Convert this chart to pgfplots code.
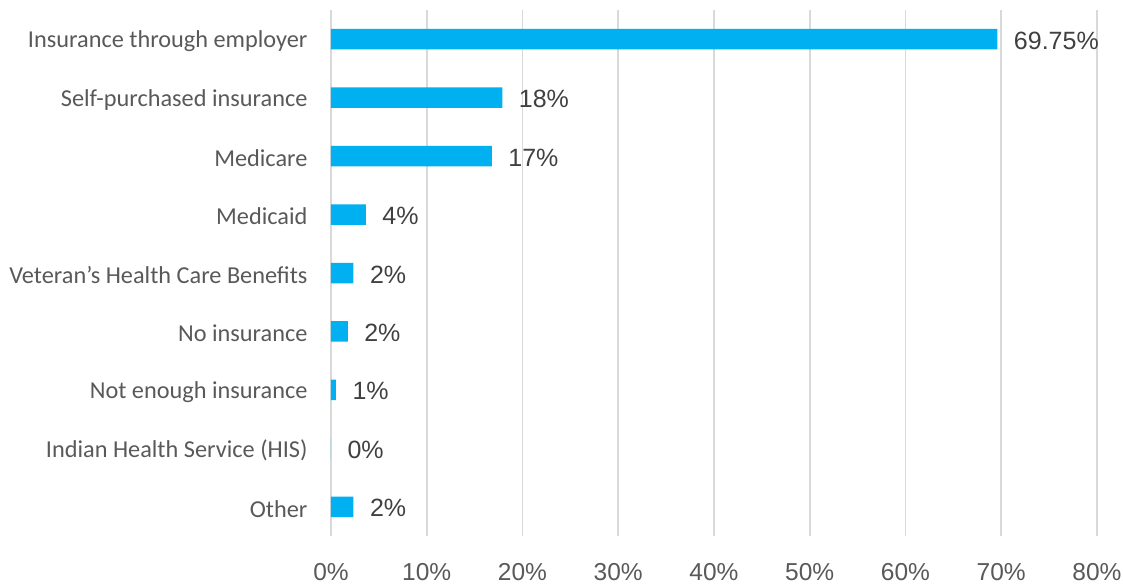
\documentclass[border=0pt]{standalone}
\usepackage{pgfplots}
\pgfplotsset{compat=1.18}
\usepackage{fontspec}
\setmainfont{Liberation Sans}
\newfontfamily\catfont{Carlito}
\definecolor{barblue}{HTML}{00B0F0}
\definecolor{gridgray}{HTML}{D9D9D9}
\definecolor{ticktext}{HTML}{595959}
\definecolor{valtext}{HTML}{404040}
\begin{document}
\begin{tikzpicture}
\useasboundingbox (-331pt,-48pt) rectangle (792pt,526pt+10pt);
\begin{axis}[
  at={(0,0)}, anchor=south west,
  scale only axis,
  width=766pt, height=526pt,
  xbar,
  xmin=0, xmax=80,
  ymin=-0.5, ymax=8.5,
  y dir=reverse,
  bar width=20.5pt,
  axis line style={draw=none},
  xmajorgrids=true,
  grid style={gridgray, line width=1.6pt},
  xtick={0,10,...,80},
  xticklabel={\pgfmathprintnumber{\tick}\%},
  xticklabel style={font=\fontsize{24.5}{28}\selectfont, text=ticktext, anchor=north, yshift=-24pt},
  ytick={0,...,8},
  yticklabels={Insurance through employer, Self-purchased insurance, Medicare, Medicaid, Veteran’s Health Care Benefits, No insurance, Not enough insurance, Indian Health Service (HIS), Other},
  yticklabel style={font=\catfont\fontsize{24.3}{28}\selectfont, text=ticktext, anchor=east, xshift=-20pt, yshift=-2pt},
  major tick length=0pt,
  tick style={draw=none},
  /pgf/number format/assume math mode=true,
  point meta=explicit symbolic,
  nodes near coords,
  nodes near coords style={font=\fontsize{25}{30}\selectfont, text=valtext, anchor=west, xshift=13pt, yshift=-1.5pt},
  clip=false,
]
\addplot[fill=barblue, draw=none] coordinates {
  (69.6,0) [69.75\%]
  (17.9,1) [18\%]
  (16.8,2) [17\%]
  (3.65,3) [4\%]
  (2.35,4) [2\%]
  (1.75,5) [2\%]
  (0.52,6) [1\%]
  (0,7) [0\%]
  (2.35,8) [2\%]
};
\end{axis}
\end{tikzpicture}
\end{document}
